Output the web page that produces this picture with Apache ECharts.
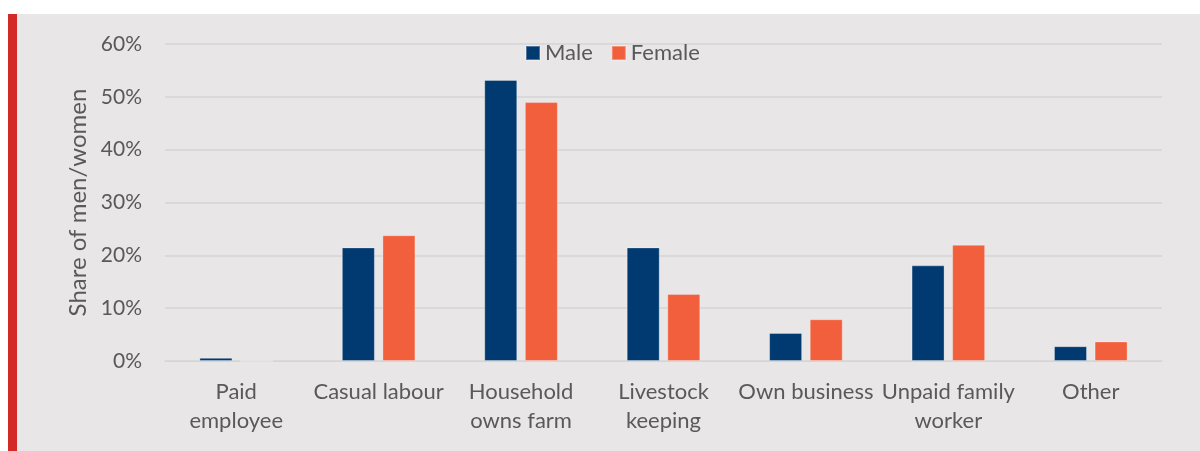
<!DOCTYPE html>
<html>
<head>
<meta charset="utf-8">
<script src="https://cdn.jsdelivr.net/npm/echarts@6/dist/echarts.min.js"></script>
<style>
  html, body { margin: 0; padding: 0; background: #ffffff; }
  #panel {
    position: absolute; left: 8px; top: 14px; width: 1192px; height: 437px;
    background: #e8e6e7; border-left: 9px solid #d22b27; box-sizing: border-box;
  }
  #chart { position: absolute; left: 0; top: 0; width: 1200px; height: 451px; }
</style>
</head>
<body>
<div id="panel"></div>
<div id="chart"></div>
<script>
// Main activity, by sex
const categories = ['Paid\nemployee', 'Casual labour', 'Household\nowns farm', 'Livestock\nkeeping', 'Own business', 'Unpaid family\nworker', 'Other'];
const maleShare = [0.6, 21.5, 53.2, 21.5, 5.3, 18.1, 2.8];
const femaleShare = [0, 23.8, 49.0, 12.7, 7.9, 22.0, 3.7];
const yTicks = [0, 10, 20, 30, 40, 50, 60];

const FONT = 'Lato';
const TEXT = '#595959';

const chart = echarts.init(document.getElementById('chart'), null, { renderer: 'canvas' });
chart.setOption({
  backgroundColor: 'transparent',
  animation: false,
  textStyle: { fontFamily: FONT },
  legend: {
    top: 37,
    left: 520,
    itemWidth: 14,
    itemHeight: 14,
    itemGap: 18,
    icon: 'rect',
    textStyle: { fontFamily: FONT, fontSize: 22, color: TEXT },
    data: ['Male', 'Female']
  },
  grid: { left: 165, right: 38, top: 44, bottom: 90, containLabel: false },
  xAxis: {
    type: 'category',
    data: categories,
    axisLine: { show: true, lineStyle: { color: '#d6d4d5', width: 1 } },
    axisTick: { show: false },
    axisLabel: {
      color: TEXT, fontFamily: FONT, fontSize: 22, lineHeight: 29, margin: 16, interval: 0
    }
  },
  yAxis: {
    type: 'value',
    min: yTicks[0],
    max: yTicks[yTicks.length - 1],
    interval: 10,
    name: 'Share of men/women',
    nameLocation: 'middle',
    nameGap: 74,
    nameTextStyle: { color: TEXT, fontFamily: FONT, fontSize: 24 },
    axisLine: { show: false },
    axisTick: { show: false },
    axisLabel: { color: TEXT, fontFamily: FONT, fontSize: 21, margin: 23, formatter: '{value}%' },
    splitLine: { lineStyle: { color: '#d6d4d5', width: 1.5 } }
  },
  series: [
    {
      name: 'Male',
      type: 'bar',
      data: maleShare,
      barWidth: 33,
      barGap: '23%',
      itemStyle: { color: '#003a70', borderColor: 'rgba(255,255,255,0.3)', borderWidth: 1 }
    },
    {
      name: 'Female',
      type: 'bar',
      data: femaleShare,
      barWidth: 33,
      itemStyle: { color: '#f15f3c', borderColor: 'rgba(255,255,255,0.3)', borderWidth: 1 }
    }
  ]
});
</script>
</body>
</html>
